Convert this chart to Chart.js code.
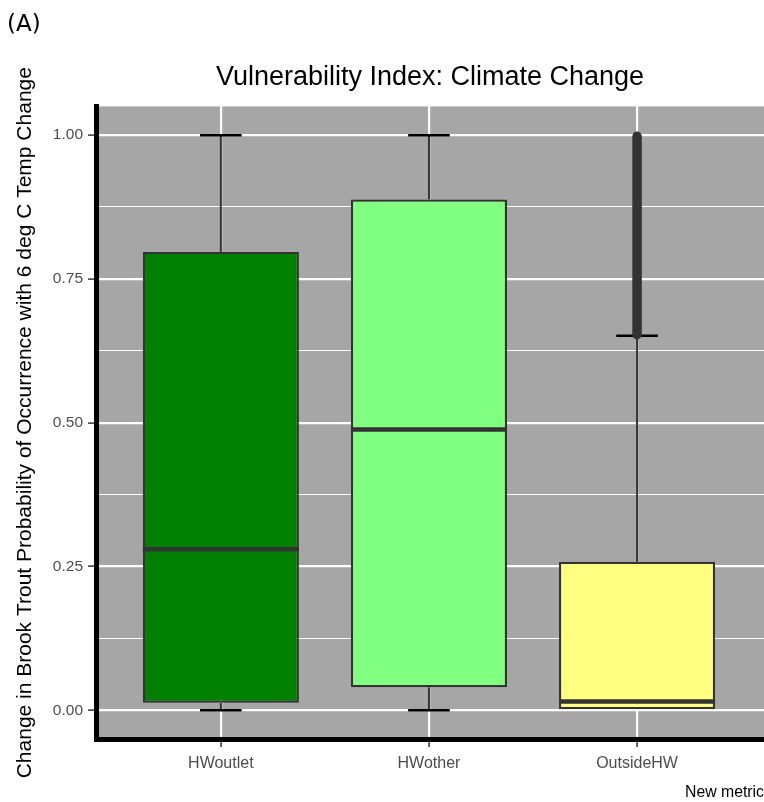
<!DOCTYPE html>
<html>
<head>
<meta charset="utf-8">
<title>Vulnerability Index: Climate Change</title>
<script src="https://cdn.jsdelivr.net/npm/chart.js@4.4.1/dist/chart.umd.min.js"></script>
<style>
  html, body { margin: 0; padding: 0; background: #fff; }
  canvas { display: block; }
</style>
</head>
<body>
<canvas id="chartVulnerability" width="764" height="802"></canvas>
<script>
// boxplot summary per group
const categories = ['HWoutlet', 'HWother', 'OutsideHW'];
const boxColors = ['#008000', '#80FF80', '#FFFF80'];
const whiskerLow = [0, 0, 0];
const quartileLow = [0.013, 0.040, 0];
const medians = [0.280, 0.488, 0.015];
const quartileHigh = [0.797, 0.888, 0.258];
const whiskerHigh = [1.0, 1.0, 0.651];
// OutsideHW has a dense run of outliers, drawn as one column
const outlierRanges = [null, null, [0.653, 0.998]];

const yTickValues = [0, 0.25, 0.5, 0.75, 1];
const yTickLabels = ['0.00', '0.25', '0.50', '0.75', '1.00'];
const yMinorValues = [0.125, 0.375, 0.625, 0.875];

const FONT = '"Liberation Sans", Arial, sans-serif';

function isMajor(v) {
	return yTickValues.indexOf(v) >= 0;
}

function strokeLine(ctx, x1, y1, x2, y2) {
	ctx.beginPath();
	ctx.moveTo(x1, y1);
	ctx.lineTo(x2, y2);
	ctx.stroke();
}

const boxplotExtras = {
	id: 'boxplotExtras',
	beforeDraw(chart) {
		const {ctx, chartArea: a} = chart;
		ctx.save();
		ctx.fillStyle = '#A6A6A6';
		ctx.fillRect(a.left, a.top, a.right - a.left, a.bottom - a.top);
		ctx.restore();
	},
	beforeDatasetsDraw(chart) {
		// whiskers and caps sit under the boxes
		const {ctx, scales: {x, y}} = chart;
		ctx.save();
		categories.forEach((name, i) => {
			const cx = x.getPixelForValue(i + 1);
			const capL = x.getPixelForValue(i + 1 - 0.1);
			const capR = x.getPixelForValue(i + 1 + 0.1);
			const ends = [[quartileHigh[i], whiskerHigh[i]], [quartileLow[i], whiskerLow[i]]];
			ends.forEach(([q, w]) => {
				if (q === w) return; // no whisker, box edge hides it
				ctx.strokeStyle = '#333333';
				ctx.lineWidth = 2;
				strokeLine(ctx, cx, y.getPixelForValue(q), cx, y.getPixelForValue(w));
				ctx.strokeStyle = '#000000';
				ctx.lineWidth = 2.5;
				strokeLine(ctx, capL, y.getPixelForValue(w), capR, y.getPixelForValue(w));
			});
		});
		ctx.restore();
	},
	afterDatasetsDraw(chart) {
		const {ctx, scales: {x, y}} = chart;
		ctx.save();
		categories.forEach((name, i) => {
			const cx = x.getPixelForValue(i + 1);
			const boxL = x.getPixelForValue(i + 1 - 0.375);
			const boxR = x.getPixelForValue(i + 1 + 0.375);
			ctx.strokeStyle = '#333333';
			ctx.lineWidth = 4.5;
			strokeLine(ctx, boxL, y.getPixelForValue(medians[i]), boxR, y.getPixelForValue(medians[i]));
			if (outlierRanges[i]) {
				ctx.lineWidth = 9.5;
				ctx.lineCap = 'round';
				strokeLine(ctx, cx, y.getPixelForValue(outlierRanges[i][0]), cx, y.getPixelForValue(outlierRanges[i][1]));
				ctx.lineCap = 'butt';
			}
		});
		ctx.restore();
	},
	afterDraw(chart) {
		const ctx = chart.ctx;
		ctx.save();
		ctx.fillStyle = '#000000';
		ctx.font = '23px "DejaVu Sans", sans-serif';
		ctx.textAlign = 'left';
		ctx.textBaseline = 'alphabetic';
		ctx.fillText('(A)', 7, 31);
		ctx.restore();
	}
};

const config = {
	type: 'bar',
	data: {
		datasets: [
		{
			label: 'Vulnerability Index',
			data: categories.map((c, i) => ({x: i + 1, y: [quartileLow[i], quartileHigh[i]]})),
			backgroundColor: boxColors,
			borderColor: '#333333',
			borderWidth: 2.2,
			borderSkipped: false,
			barPercentage: 0.75,
			categoryPercentage: 1
		}
		]
	},
	options: {
		responsive: false,
		animation: false,
		layout: { padding: 0 },
		plugins: {
			legend: { display: false },
			tooltip: { enabled: false },
			title: {
				display: true,
				fullSize: false,
				text: 'Vulnerability Index: Climate Change',
				color: '#000000',
				font: { family: FONT, size: 27, weight: 'normal' },
				padding: { top: 61, bottom: 13 }
			}
		},
		scales: {
			x: {
				type: 'linear',
				min: 0.4,
				max: 3.61,
				offset: false,
				afterBuildTicks: s => { s.ticks = categories.map((c, i) => ({value: i + 1})); },
				afterFit: s => { s.height = 63; },
				ticks: {
					color: '#4D4D4D',
					font: { family: FONT, size: 16 },
					padding: 7,
					autoSkip: false,
					maxRotation: 0,
					callback: v => categories[v - 1]
				},
				grid: { offset: false, color: '#FFFFFF', lineWidth: 2.2, tickLength: 8, tickColor: '#333333', tickWidth: 1.5 },
				border: { display: true, color: '#000000', width: 5 },
				title: {
					display: true,
					text: 'New metric',
					align: 'end',
					color: '#000000',
					font: { family: FONT, size: 15.8 },
					padding: { top: 0, bottom: 0 }
				}
			},
			y: {
				type: 'linear',
				min: -0.05,
				max: 1.05,
				afterBuildTicks: s => {
					s.ticks = yMinorValues.concat(yTickValues).sort((a, b) => a - b).map(v => ({value: v}));
				},
				afterFit: s => { s.width = 96; },
				ticks: {
					color: '#4D4D4D',
					font: { family: FONT, size: 15.5 },
					padding: 5,
					callback: v => isMajor(v) ? yTickLabels[yTickValues.indexOf(v)] : ''
				},
				grid: {
					color: '#FFFFFF',
					lineWidth: c => (c.tick && !isMajor(c.tick.value)) ? 1.1 : 2.2,
					tickLength: 8,
					tickColor: c => (c.tick && !isMajor(c.tick.value)) ? 'rgba(0,0,0,0)' : '#333333',
					tickWidth: 1.5
				},
				border: { display: true, color: '#000000', width: 5 },
				title: {
					display: true,
					text: 'Change in Brook Trout Probability of Occurrence with 6 deg C Temp Change',
					color: '#000000',
					font: { family: FONT, size: 21 },
					padding: { top: 13, bottom: 0 }
				}
			}
		}
	},
	plugins: [boxplotExtras]
};

const ctxVulnerability = document.getElementById('chartVulnerability').getContext('2d');
window.vulnChart = new Chart(ctxVulnerability, config);
</script>
</body>
</html>
